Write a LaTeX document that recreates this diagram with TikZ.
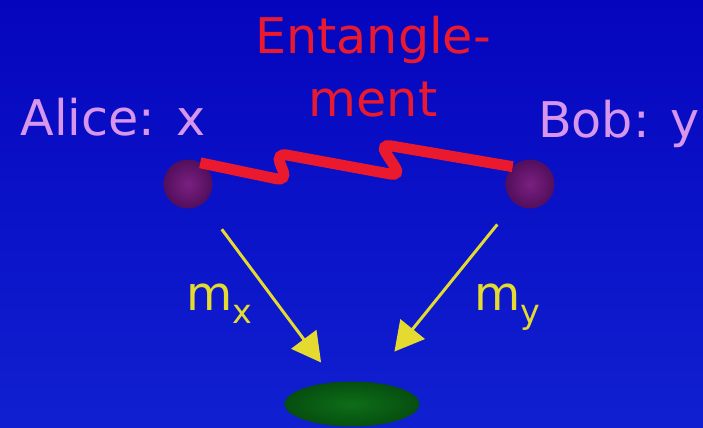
\documentclass[tikz,border=0pt]{standalone}
\usepackage{fontspec}
\setmainfont{DejaVu Sans}
\usetikzlibrary{arrows.meta, shapes.geometric}
\definecolor{bgtop}{RGB}{5,5,190}
\definecolor{bgbottom}{RGB}{16,32,208}
\definecolor{entred}{RGB}{235,25,45}
\definecolor{lilac}{RGB}{215,150,235}
\definecolor{measyellow}{RGB}{228,218,48}
\definecolor{ballin}{RGB}{122,32,128}
\definecolor{ballout}{RGB}{82,14,92}
\definecolor{greenin}{RGB}{14,110,24}
\definecolor{greenout}{RGB}{6,78,16}
\newcommand\lowsub[1]{\raisebox{-7.4pt}{\fontsize{19}{19}\selectfont #1}}
\tikzset{
    party/.style = {font=\fontsize{28}{34}\selectfont, text=lilac, inner sep=0pt, anchor=base west},
    entlabel/.style = {font=\fontsize{28}{36}\selectfont, text=entred, inner sep=0pt, align=center},
    mlabel/.style = {font=\fontsize{27}{30}\selectfont, text=measyellow, inner sep=0pt, anchor=base west},
    ball/.style = {circle, minimum size=0.98cm, inner sep=0pt, outer sep=0pt, inner color=ballin, outer color=ballout},
    judge/.style = {ellipse, minimum width=2.7cm, minimum height=0.9cm, inner sep=0pt, outer sep=0pt, inner color=greenin, outer color=greenout},
    wire/.style = {draw=entred, line width=6.2pt, rounded corners=6pt},
    meas/.style = {-{Triangle[length=5.8mm, width=6.2mm]}, draw=measyellow, line width=1.7pt}
}

\begin{document}
\begin{tikzpicture}[x={(0.02cm,0)}, y={(0,-0.02cm)}]
% Background
\shade[top color=bgtop, bottom color=bgbottom] (0,0) rectangle (703,427);
\useasboundingbox (0,0) rectangle (703,427);

% Labels
\node[entlabel] (ent) at (373,67) {Entangle-\\ment};
\node[party] (alice) at (20,135) {Alice: x};
\node[party, anchor=base east] (bob) at (700,137) {Bob: y};

% Particles and detector
\node[ball] (aball) at (188,184) {};
\node[ball] (bball) at (530,184) {};
\node[judge] (ell) at (352,404) {};

% Entanglement link
\draw[wire] (aball.60) -- (287,181) -- (276,153) -- (401,176) -- (380,144) -- (bball.135);

% Measurement results
\draw[meas, shorten <=0.64cm, shorten >=0.49cm] (aball) -- (ell);
\draw[meas, shorten <=0.55cm, shorten >=0.79cm] (bball) -- (ell);
\node[mlabel] (mx) at (186,310) {m\lowsub{x}};
\node[mlabel] (my) at (474,310) {m\lowsub{y}};
\end{tikzpicture}
\end{document}
